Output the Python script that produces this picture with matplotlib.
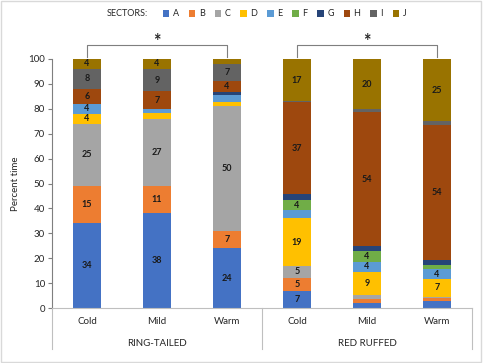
import matplotlib
matplotlib.use("Agg")
import matplotlib.pyplot as plt
from matplotlib.patches import Rectangle, Patch
import numpy as np

plt.rcParams['font.family'] = ['Lato', 'DejaVu Sans']

sectors = ["A", "B", "C", "D", "E", "F", "G", "H", "I", "J"]
conditions = ["Cold", "Mild", "Warm", "Cold", "Mild", "Warm"]
groups = ["RING-TAILED", "RED RUFFED"]

# percent time per sector, one value per bar (Ring-tailed Cold/Mild/Warm, Red ruffed Cold/Mild/Warm)
A = [34, 38, 24, 7, 2.2, 3.0]
B = [15, 11, 7, 5, 1.6, 1.2]
C = [25, 27, 50, 5, 1.4, 0.4]
D = [4, 2.4, 1.7, 19, 9.4, 7]
E = [4, 1.6, 2.7, 3.2, 4, 4]
F = [0, 0, 0, 4, 4.2, 1.6]
G = [0, 0, 1.3, 2.4, 2.0, 2.1]
H = [6, 7, 4.3, 37, 54, 54]
I = [8, 9, 7.1, 0.4, 1.1, 1.7]
J = [4, 4, 1.9, 17, 20.1, 25]

colors = ["#4472C4", "#ED7D31", "#A5A5A5", "#FFC000", "#5B9BD5",
          "#70AD47", "#264478", "#9E480E", "#636363", "#997300"]

series = [A, B, C, D, E, F, G, H, I, J]

W, H_ = 483, 363
fig = plt.figure(figsize=(W / 100, H_ / 100), dpi=100)
fig.patches.append(Rectangle((0.002, 0.003), 0.994, 0.993, transform=fig.transFigure,
                             fill=False, edgecolor="#D9D9D9", lw=1.0, zorder=-1))

left, right, top, bottom = 52, 472, 59, 308
ax = fig.add_axes([left / W, (H_ - bottom) / H_, (right - left) / W, (bottom - top) / H_])

x = np.arange(len(conditions))
bottoms = np.zeros(len(conditions))
for name, vals, col in zip(sectors, series, colors):
    vals = np.array(vals, dtype=float)
    ax.bar(x, vals, 0.4, bottom=bottoms, color=col, label=name, zorder=2)
    for xi, v, b in zip(x, vals, bottoms):
        if v >= 3.5:
            ax.text(xi, b + v / 2, f"{v:.0f}", ha="center", va="center",
                    fontsize=6.5, fontweight="bold", color="#1a1a1a", zorder=3)
    bottoms += vals

ax.set_xlim(-0.5, 5.5)
ax.set_ylim(0, 100)
ax.set_yticks(np.arange(0, 101, 10))
ax.tick_params(axis="y", labelsize=7, length=3, width=0.8, color="#7f7f7f", pad=2, labelcolor="#262626")
ax.set_xticks([])
for s in ["top", "right"]:
    ax.spines[s].set_visible(False)
ax.spines["left"].set_color("#7f7f7f")
ax.spines["left"].set_linewidth(0.8)
ax.spines["bottom"].set_color("#BFBFBF")
ax.spines["bottom"].set_linewidth(0.8)
ax.set_ylabel("Percent time", fontsize=7, color="#262626", labelpad=6)

ppu = (bottom - top)
def ay(py):
    return (bottom - py) / ppu

for xi, lab in zip(x, conditions):
    ax.text(xi, ay(322), lab, transform=ax.get_xaxis_transform(), ha="center", va="center",
            fontsize=7, color="#262626")
for gi, g in enumerate(groups):
    ax.text(gi * 3 + 1, ay(343), g, transform=ax.get_xaxis_transform(), ha="center", va="center",
            fontsize=7, color="#262626")
for xs in [-0.5, 2.5, 5.5]:
    ax.plot([xs, xs], [0, ay(349)], transform=ax.get_xaxis_transform(), color="#BFBFBF",
            lw=0.8, clip_on=False)

# significance brackets
for gi in range(2):
    x0, x1 = gi * 3, gi * 3 + 2
    ax.plot([x0, x0, x1, x1], [ay(57), ay(45), ay(45), ay(57)], transform=ax.get_xaxis_transform(),
            color="#7f7f7f", lw=0.8, clip_on=False)
    ax.text((x0 + x1) / 2, ay(50), "*", transform=ax.get_xaxis_transform(), ha="center",
            va="bottom", fontsize=13, fontweight="bold", color="#262626")

# legend
fig.text(107 / W, 1 - 14 / H_, "SECTORS:", fontsize=6.5, va="center", ha="left", color="#262626")
leg_handles = [Patch(facecolor=c, edgecolor="none") for c in colors]
fig.legend(leg_handles, sectors, ncol=10, loc="center left",
           bbox_to_anchor=(163 / W, 1 - 14 / H_), frameon=False, fontsize=6.5,
           handlelength=0.7, handleheight=0.7, handletextpad=0.4, columnspacing=1.1,
           borderpad=0, borderaxespad=0, labelcolor="#262626")

fig.savefig("out.png", dpi=100)
